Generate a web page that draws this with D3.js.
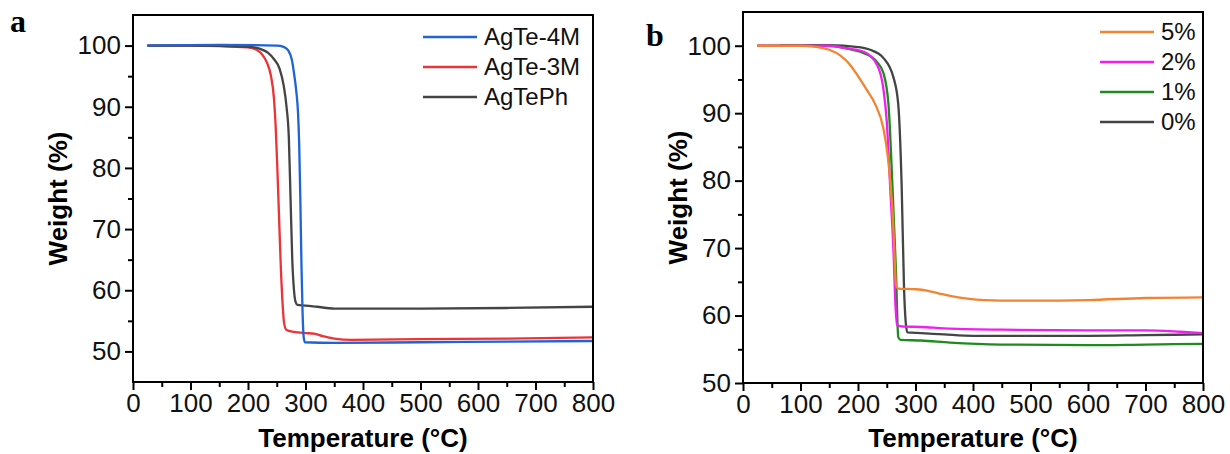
<!DOCTYPE html>
<html>
<head>
<meta charset="utf-8">
<script src="https://cdn.jsdelivr.net/npm/d3@7"></script>
<style>
  body { margin: 0; background: #fff; }
  svg { display: block; }
  .tick text { font-family: "Liberation Sans", Arial, sans-serif; }
</style>
</head>
<body>
<svg id="chart" width="1230" height="454"></svg>
<script>
// ---- data ----
const xTicks = [0, 100, 200, 300, 400, 500, 600, 700, 800];
const yTicks = [50, 60, 70, 80, 90, 100];

// panel a
const agTe4M = [[25,100],[150,100.1],[250,100],[262,99.8],[270,99.2],[276,97.8],[280,95.5],[284,92.5],[287,89],[289,84],[291,75],[293,64],[295,56],[297,52.2],[299,51.5],[350,51.4],[500,51.5],[650,51.6],[800,51.7]];
const agTe3M = [[25,100],[100,100],[200,99.7],[215,99.3],[225,98.5],[233,97.2],[240,95],[245,91.5],[248,87],[251,80],[254,72],[257,64],[260,58],[263,54.5],[267,53.5],[280,53.2],[300,53],[315,52.9],[330,52.5],[350,52.1],[380,51.9],[500,52],[650,52.1],[800,52.3]];
const agTePh = [[25,100],[100,100],[200,99.8],[220,99.5],[235,98.8],[245,97.8],[255,96.2],[262,93.5],[267,90],[271,85],[274,75],[277,65],[280,60],[283,58],[286,57.6],[300,57.5],[320,57.3],[350,57],[500,57],[650,57.1],[800,57.3]];

// panel b
const pct5 = [[25,100],[100,100],[130,99.8],[150,99.4],[170,98.5],[185,97.3],[200,95.5],[215,93.5],[230,91.3],[244,87.8],[252,83.5],[257,79],[261,74],[264,68],[266,64.5],[270,64],[300,63.9],[320,63.7],[340,63.3],[360,62.9],[390,62.5],[420,62.3],[500,62.2],[600,62.3],[700,62.6],[800,62.7]];
const pct2 = [[25,100],[150,100],[181,99.6],[210,99.1],[233,97.2],[244,93.7],[250,88.8],[256,79],[262,69],[265,61.8],[268,58.6],[275,58.4],[310,58.3],[350,58.1],[450,57.9],[600,57.8],[700,57.8],[760,57.6],[800,57.4]];
const pct1 = [[25,100],[150,100],[190,99.4],[210,98.9],[233,97.6],[244,96],[253,91.3],[260,79],[266,66.7],[270,56.8],[274,56.4],[310,56.3],[360,56],[450,55.7],[600,55.6],[700,55.7],[800,55.8]];
const pct0 = [[65,100.1],[150,100.1],[200,99.8],[221,99.4],[244,98.2],[262,95.2],[270,91.3],[276,79],[280,64.2],[283,59],[286,57.5],[310,57.4],[350,57.2],[400,57],[600,57],[700,57.1],[800,57.2]];

const panelA = {
  letter: "a",
  series: [
    { name: "AgTe-4M", values: agTe4M, color: "#1f63d6" },
    { name: "AgTe-3M", values: agTe3M, color: "#eb3338" },
    { name: "AgTePh", values: agTePh, color: "#444444" }
  ],
  drawOrder: [1, 2, 0],
  yDomain: [45, 105],
  yMinor: [55, 65, 75, 85, 95],
  box: { left: 133, right: 593, top: 15, bottom: 382 },
  legend: { x1: 423, x2: 477, y: 37 },
  ylabelX: 58,
  letterPos: [10, 32]
};

const panelB = {
  letter: "b",
  series: [
    { name: "5%", values: pct5, color: "#f28331" },
    { name: "2%", values: pct2, color: "#f01ef0" },
    { name: "1%", values: pct1, color: "#1c8c1c" },
    { name: "0%", values: pct0, color: "#444444" }
  ],
  drawOrder: [3, 2, 1, 0],
  yDomain: [50, 105],
  yMinor: [55, 65, 75, 85, 95],
  box: { left: 743, right: 1203, top: 12, bottom: 383 },
  legend: { x1: 1100, x2: 1154, y: 32 },
  ylabelX: 678,
  letterPos: [646, 46]
};

const svg = d3.select("#chart");

function drawPanel(p) {
  const b = p.box;
  const x = d3.scaleLinear().domain([0, 800]).range([b.left, b.right]);
  const y = d3.scaleLinear().domain(p.yDomain).range([b.bottom, b.top]);
  const g = svg.append("g");

  // lines
  const line = d3.line()
    .x(d => x(d[0]))
    .y(d => y(d[1]))
    .curve(d3.curveMonotoneX);

  p.drawOrder.forEach(i => {
    const s = p.series[i];
    g.append("path")
      .datum(s.values)
      .attr("fill", "none")
      .attr("stroke", s.color)
      .attr("stroke-width", 2.3)
      .attr("stroke-linejoin", "round")
      .attr("d", line);
  });

  // frame
  g.append("rect")
    .attr("x", b.left).attr("y", b.top)
    .attr("width", b.right - b.left).attr("height", b.bottom - b.top)
    .attr("fill", "none").attr("stroke", "#000").attr("stroke-width", 2);

  // minor ticks
  const xMinor = d3.range(50, 800, 100);
  g.append("g")
    .attr("transform", "translate(0," + b.bottom + ")")
    .call(d3.axisBottom(x).tickValues(xMinor).tickSize(5).tickFormat(""))
    .call(a => a.select(".domain").remove())
    .selectAll("line").attr("stroke-width", 2);
  g.append("g")
    .attr("transform", "translate(" + b.left + ",0)")
    .call(d3.axisLeft(y).tickValues(p.yMinor).tickSize(5).tickFormat(""))
    .call(a => a.select(".domain").remove())
    .selectAll("line").attr("stroke-width", 2);

  // major ticks
  const xAxis = g.append("g")
    .attr("transform", "translate(0," + b.bottom + ")")
    .call(d3.axisBottom(x).tickValues(xTicks).tickSize(8).tickPadding(4));
  xAxis.select(".domain").remove();
  xAxis.selectAll("line").attr("stroke-width", 2);
  xAxis.selectAll("text").attr("font-size", 26).attr("fill", "#111");

  const yAxis = g.append("g")
    .attr("transform", "translate(" + b.left + ",0)")
    .call(d3.axisLeft(y).tickValues(yTicks).tickSize(8).tickPadding(4));
  yAxis.select(".domain").remove();
  yAxis.selectAll("line").attr("stroke-width", 2);
  yAxis.selectAll("text").attr("font-size", 26).attr("fill", "#111");

  // axis titles
  g.append("text")
    .attr("x", (b.left + b.right) / 2)
    .attr("y", 447)
    .attr("text-anchor", "middle")
    .attr("font-family", "Liberation Sans, Arial, sans-serif")
    .attr("font-weight", "bold")
    .attr("font-size", 26)
    .text("Temperature (°C)");

  g.append("text")
    .attr("transform", "translate(" + p.ylabelX + "," + ((b.top + b.bottom) / 2) + ") rotate(-90)")
    .attr("text-anchor", "middle")
    .attr("dy", "0.35em")
    .attr("font-family", "Liberation Sans, Arial, sans-serif")
    .attr("font-weight", "bold")
    .attr("font-size", 26)
    .text("Weight (%)");

  // panel letter
  g.append("text")
    .attr("x", p.letterPos[0]).attr("y", p.letterPos[1])
    .attr("font-family", "Liberation Serif, Times New Roman, serif")
    .attr("font-weight", "bold")
    .attr("font-size", 32)
    .text(p.letter);

  // legend
  const lg = g.append("g");
  p.series.forEach((s, i) => {
    const yy = p.legend.y + i * 30;
    lg.append("line")
      .attr("x1", p.legend.x1).attr("x2", p.legend.x2)
      .attr("y1", yy).attr("y2", yy)
      .attr("stroke", s.color).attr("stroke-width", 2.3);
    lg.append("text")
      .attr("x", p.legend.x2 + 7).attr("y", yy)
      .attr("dy", "0.35em")
      .attr("font-family", "Liberation Sans, Arial, sans-serif")
      .attr("font-size", 24)
      .attr("fill", "#111")
      .text(s.name);
  });
}

drawPanel(panelA);
drawPanel(panelB);
</script>
</body>
</html>
